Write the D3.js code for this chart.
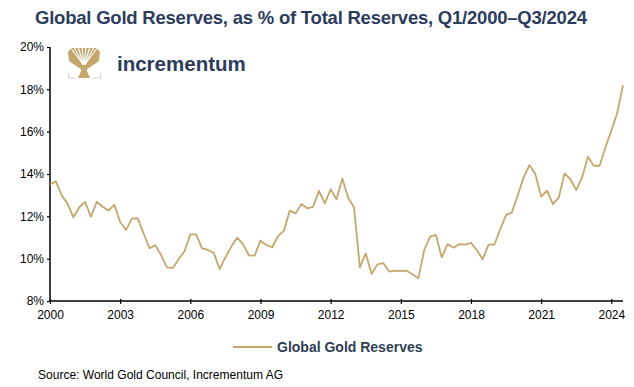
<!DOCTYPE html>
<html>
<head>
<meta charset="utf-8">
<script src="https://cdn.jsdelivr.net/npm/d3@7"></script>
<style>
  body { margin: 0; background: #fff; }
  text { font-family: "Liberation Sans", Arial, sans-serif; }
</style>
</head>
<body>
<svg id="chart" width="634" height="387"></svg>
<script>
// quarterly data, Q1/2000 - Q3/2024 (in %)
const years = d3.range(2000, 2025);
const quarters = ["Q1", "Q2", "Q3", "Q4"];
const goldShare = [
  13.5, 13.65, 13.0, 12.6,
  11.95, 12.43, 12.68, 11.98,
  12.68, 12.45, 12.27, 12.55,
  11.73, 11.35, 11.89, 11.9,
  11.2, 10.49, 10.63, 10.17,
  9.59, 9.56, 9.97, 10.35,
  11.15, 11.15, 10.49, 10.41,
  10.28, 9.51, 10.06, 10.57,
  10.99, 10.69, 10.16, 10.14,
  10.85, 10.65, 10.54, 11.07,
  11.31, 12.27, 12.14, 12.58,
  12.38, 12.45, 13.2, 12.61,
  13.28, 12.8, 13.78, 12.88,
  12.42, 9.59, 10.25, 9.28,
  9.73, 9.79, 9.39, 9.43,
  9.42, 9.43, 9.26, 9.07,
  10.41, 11.04, 11.12, 10.06,
  10.69, 10.52, 10.69, 10.66,
  10.75, 10.4, 9.97, 10.66,
  10.66, 11.39, 12.06, 12.19,
  13.0, 13.84, 14.42, 14.0,
  12.93, 13.21, 12.58, 12.88,
  14.03, 13.75, 13.24, 13.84,
  14.82, 14.39, 14.39, 15.26,
  16.04, 16.87, 18.2
];
const xTicks = [2000, 2003, 2006, 2009, 2012, 2015, 2018, 2021, 2024];
const yTicks = [8, 10, 12, 14, 16, 18, 20];
const seriesName = "Global Gold Reserves";

const gold = "#c3a76c";
const navy = "#2d3c5c";

const svg = d3.select("#chart");
const margin = { top: 47, right: 11, bottom: 86, left: 50 };
const width = 634 - margin.left - margin.right;
const height = 387 - margin.top - margin.bottom;

// data points: year + quarter offset
const data = goldShare.map((v, i) => ({ t: 2000 + i * 0.25, v: v }));

const x = d3.scaleLinear().domain([2000, 2024.5]).range([0, width]);
const y = d3.scaleLinear().domain([8, 20]).range([height, 0]);

// title
svg.append("text")
  .attr("x", 35)
  .attr("y", 24)
  .attr("font-size", "18.5px")
  .attr("font-weight", "bold")
  .attr("fill", navy)
  .attr("textLength", 552)
  .text("Global Gold Reserves, as % of Total Reserves, Q1/2000\u2013Q3/2024");

const g = svg.append("g")
  .attr("transform", "translate(" + margin.left + "," + margin.top + ")");

// logo (rough tree mark + wordmark)
const logo = g.append("g").attr("transform", "translate(18,0)");
logo.append("path")
  .attr("d", "M14,23 L1,14 L0,5 L3,1 L29,1 L32,5 L31,14 L18,23 Z")
  .attr("fill", gold);
// white gaps between the branches
const gaps = [2, 6, 10, 14, 18, 22, 26, 30];
logo.selectAll(".gap")
  .data(gaps)
  .join("path")
  .attr("d", d => "M16,19 Q" + ((d + 16) / 2) + ",9 " + d + ",0")
  .attr("fill", "none")
  .attr("stroke", "#fff")
  .attr("stroke-width", 1.1);
logo.append("path")
  .attr("d", "M10,31 L13,24 L14,18 L18,18 L19,24 L22,31 Z")
  .attr("fill", gold);
logo.append("path")
  .attr("d", "M0.5,26 V31 H8 M32.5,26 V31 H24")
  .attr("fill", "none").attr("stroke", "#d2d2d2").attr("stroke-width", 1.2);
g.append("text")
  .attr("x", 67)
  .attr("y", 24)
  .attr("font-size", "20.5px")
  .attr("font-weight", "bold")
  .attr("fill", navy)
  .text("incrementum");

// y axis
const yAxis = g.append("g")
  .call(d3.axisLeft(y).tickValues(yTicks).tickSize(3).tickPadding(3)
    .tickFormat(d => d + "%"));
// x axis
const xAxis = g.append("g")
  .attr("transform", "translate(0," + height + ")")
  .call(d3.axisBottom(x).tickValues(xTicks).tickSize(3).tickPadding(6)
    .tickFormat(d3.format("d")));

[yAxis, xAxis].forEach(a => {
  a.select(".domain").attr("stroke", "#000").attr("stroke-width", 1.5);
  a.selectAll(".tick line").attr("stroke", "#000").attr("stroke-width", 1.2);
  a.selectAll(".tick text")
    .attr("fill", "#000")
    .attr("font-size", "12px")
    .attr("font-family", "Liberation Sans, Arial, sans-serif");
});
xAxis.selectAll(".tick line").attr("y1", -2);
yAxis.select(".domain").attr("d", "M0,0V" + height);
xAxis.select(".domain").attr("d", "M0,0H" + width);

// the line
const line = d3.line()
  .x(d => x(d.t))
  .y(d => y(d.v));

g.append("path")
  .datum(data)
  .attr("fill", "none")
  .attr("stroke", gold)
  .attr("stroke-width", 1.8)
  .attr("stroke-linejoin", "round")
  .attr("d", line);

// legend
const legend = svg.append("g").attr("transform", "translate(233,347)");
legend.append("line")
  .attr("x1", 0).attr("x2", 39)
  .attr("stroke", gold).attr("stroke-width", 1.8);
legend.append("text")
  .attr("x", 44)
  .attr("y", 5)
  .attr("font-size", "14px")
  .attr("font-weight", "bold")
  .attr("fill", "#2f3e52")
  .text(seriesName);

// source
svg.append("text")
  .attr("x", 38)
  .attr("y", 379)
  .attr("font-size", "12px")
  .attr("fill", "#000")
  .attr("textLength", 245)
  .text("Source: World Gold Council, Incrementum AG");
</script>
</body>
</html>
